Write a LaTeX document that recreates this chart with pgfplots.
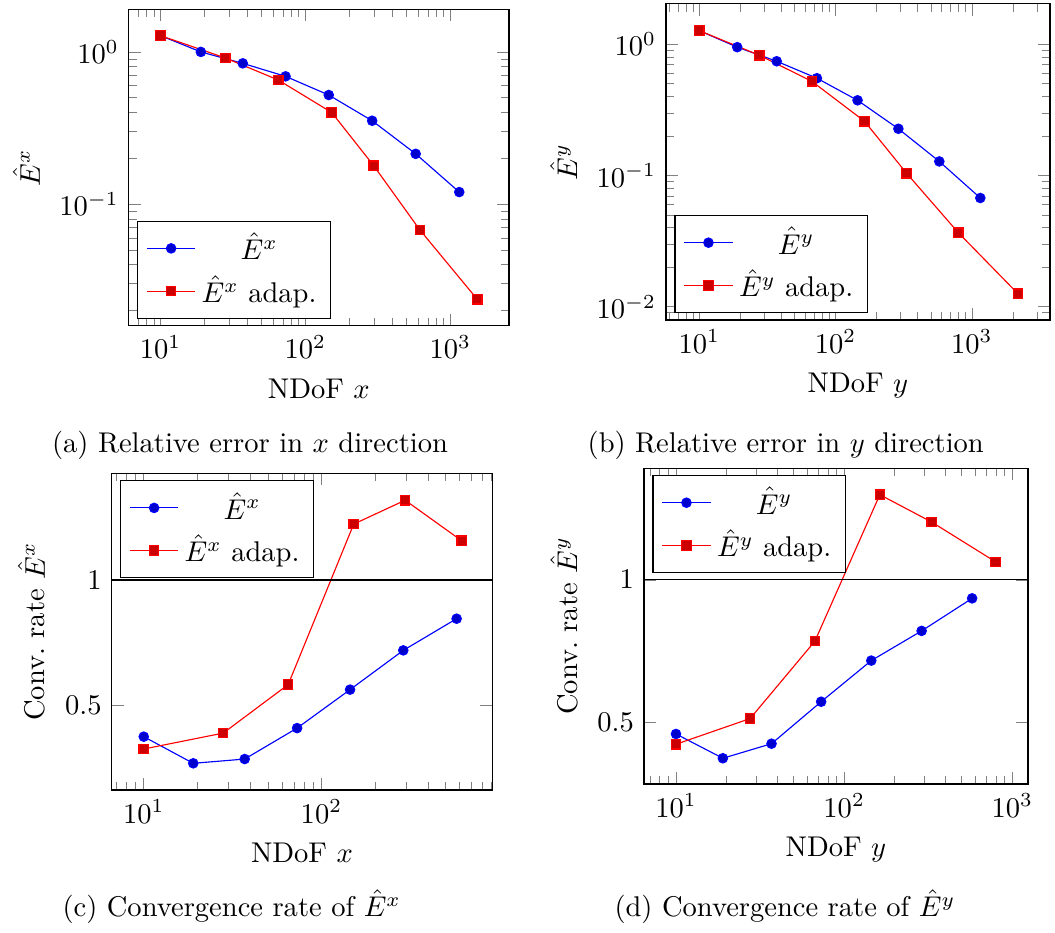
\documentclass[border=0pt]{standalone}
\usepackage{pgfplots}
\pgfplotsset{compat=1.18}
\pgfplotsset{
  myaxis/.style={
    scale only axis,
    anchor=south west,
    legend cell align=center,
  },
  sA/.style={blue, mark=*, mark size=1.65pt, every mark/.append style={fill=blue!80!black}},
  sB/.style={red, mark=square*, mark size=1.65pt, every mark/.append style={fill=red!80!black}},
}
\begin{document}
\begin{tikzpicture}
\useasboundingbox (0pt,0pt) rectangle (369.8pt,-326.7pt);
% (a)
\begin{axis}[myaxis, at={(45.11pt,-114.16pt)}, width=133.3pt, height=110.9pt,
  xmode=log, ymode=log,
  xmin=6.04, xmax=2541, ymin=0.0159, ymax=1.905,
  xlabel={NDoF $x$}, ylabel={$\hat{E}^x$},
  legend style={at={(0.022,0.022)}, anchor=south west}]
\addplot[sA] coordinates {(10,1.28) (19,1.0) (37,0.841) (73,0.691) (145,0.521) (289,0.353) (577,0.214) (1153,0.12)};
\addlegendentry{$\hat{E}^x$}
\addplot[sB] coordinates {(10,1.28) (28,0.913) (65,0.654) (152,0.40) (296,0.179) (616,0.0678) (1535,0.0237)};
\addlegendentry{$\hat{E}^x$ adap.}
\end{axis}
% (b)
\begin{axis}[myaxis, at={(233.43pt,-112.16pt)}, width=134.6pt, height=110.8pt,
  xmode=log, ymode=log,
  xmin=5.7, xmax=3740, ymin=0.00793, ymax=2.03,
  xlabel={NDoF $y$}, ylabel={$\hat{E}^y$},
  legend style={at={(0.022,0.022)}, anchor=south west}]
\addplot[sA] coordinates {(10,1.27) (19,0.95) (37,0.742) (73,0.551) (145,0.374) (289,0.227) (577,0.128) (1153,0.0674)};
\addlegendentry{$\hat{E}^y$}
\addplot[sB] coordinates {(10,1.27) (27.6,0.824) (67,0.522) (163,0.259) (332,0.104) (795,0.0367) (2178,0.01257)};
\addlegendentry{$\hat{E}^y$ adap.}
\end{axis}
% (c)
\begin{axis}[myaxis, at={(39.15pt,-276.9pt)}, width=133.4pt, height=111.0pt,
  xmode=log,
  xmin=6.6, xmax=916, ymin=0.165, ymax=1.424,
  ytick={0.5,1},
  xlabel={NDoF $x$}, ylabel={Conv.\ rate $\hat{E}^x$},
  legend style={at={(0.022,0.978)}, anchor=north west}]
\addplot[sA] coordinates {(10,0.377) (19,0.271) (37,0.288) (73,0.411) (145,0.564) (289,0.720) (577,0.846)};
\addlegendentry{$\hat{E}^x$}
\addplot[sB] coordinates {(10,0.328) (28,0.391) (65,0.584) (152,1.222) (296,1.317) (616,1.156)};
\addlegendentry{$\hat{E}^x$ adap.}
\addplot[black, mark=none, forget plot] coordinates {(1,1) (100000,1)};
\end{axis}
% (d)
\begin{axis}[myaxis, at={(225.72pt,-274.79pt)}, width=134.6pt, height=110.7pt,
  xmode=log,
  xmin=6.45, xmax=1239, ymin=0.285, ymax=1.391,
  ytick={0.5,1},
  xlabel={NDoF $y$}, ylabel={Conv.\ rate $\hat{E}^y$},
  legend style={at={(0.022,0.978)}, anchor=north west}]
\addplot[sA] coordinates {(10,0.460) (19,0.375) (37,0.426) (73,0.573) (145,0.717) (289,0.821) (577,0.935)};
\addlegendentry{$\hat{E}^y$}
\addplot[sB] coordinates {(10,0.424) (27.6,0.514) (67,0.785) (163,1.298) (332,1.202) (795,1.063)};
\addlegendentry{$\hat{E}^y$ adap.}
\addplot[black, mark=none, forget plot] coordinates {(1,1) (100000,1)};
\end{axis}
\node[anchor=base] at (87.63pt,-158.78pt) {(a) Relative error in $x$ direction};
\node[anchor=base] at (275.42pt,-158.78pt) {(b) Relative error in $y$ direction};
\node[anchor=base] at (81.21pt,-321.41pt) {(c) Convergence rate of $\hat{E}^x$};
\node[anchor=base] at (275.14pt,-321.41pt) {(d) Convergence rate of $\hat{E}^y$};
\end{tikzpicture}
\end{document}
